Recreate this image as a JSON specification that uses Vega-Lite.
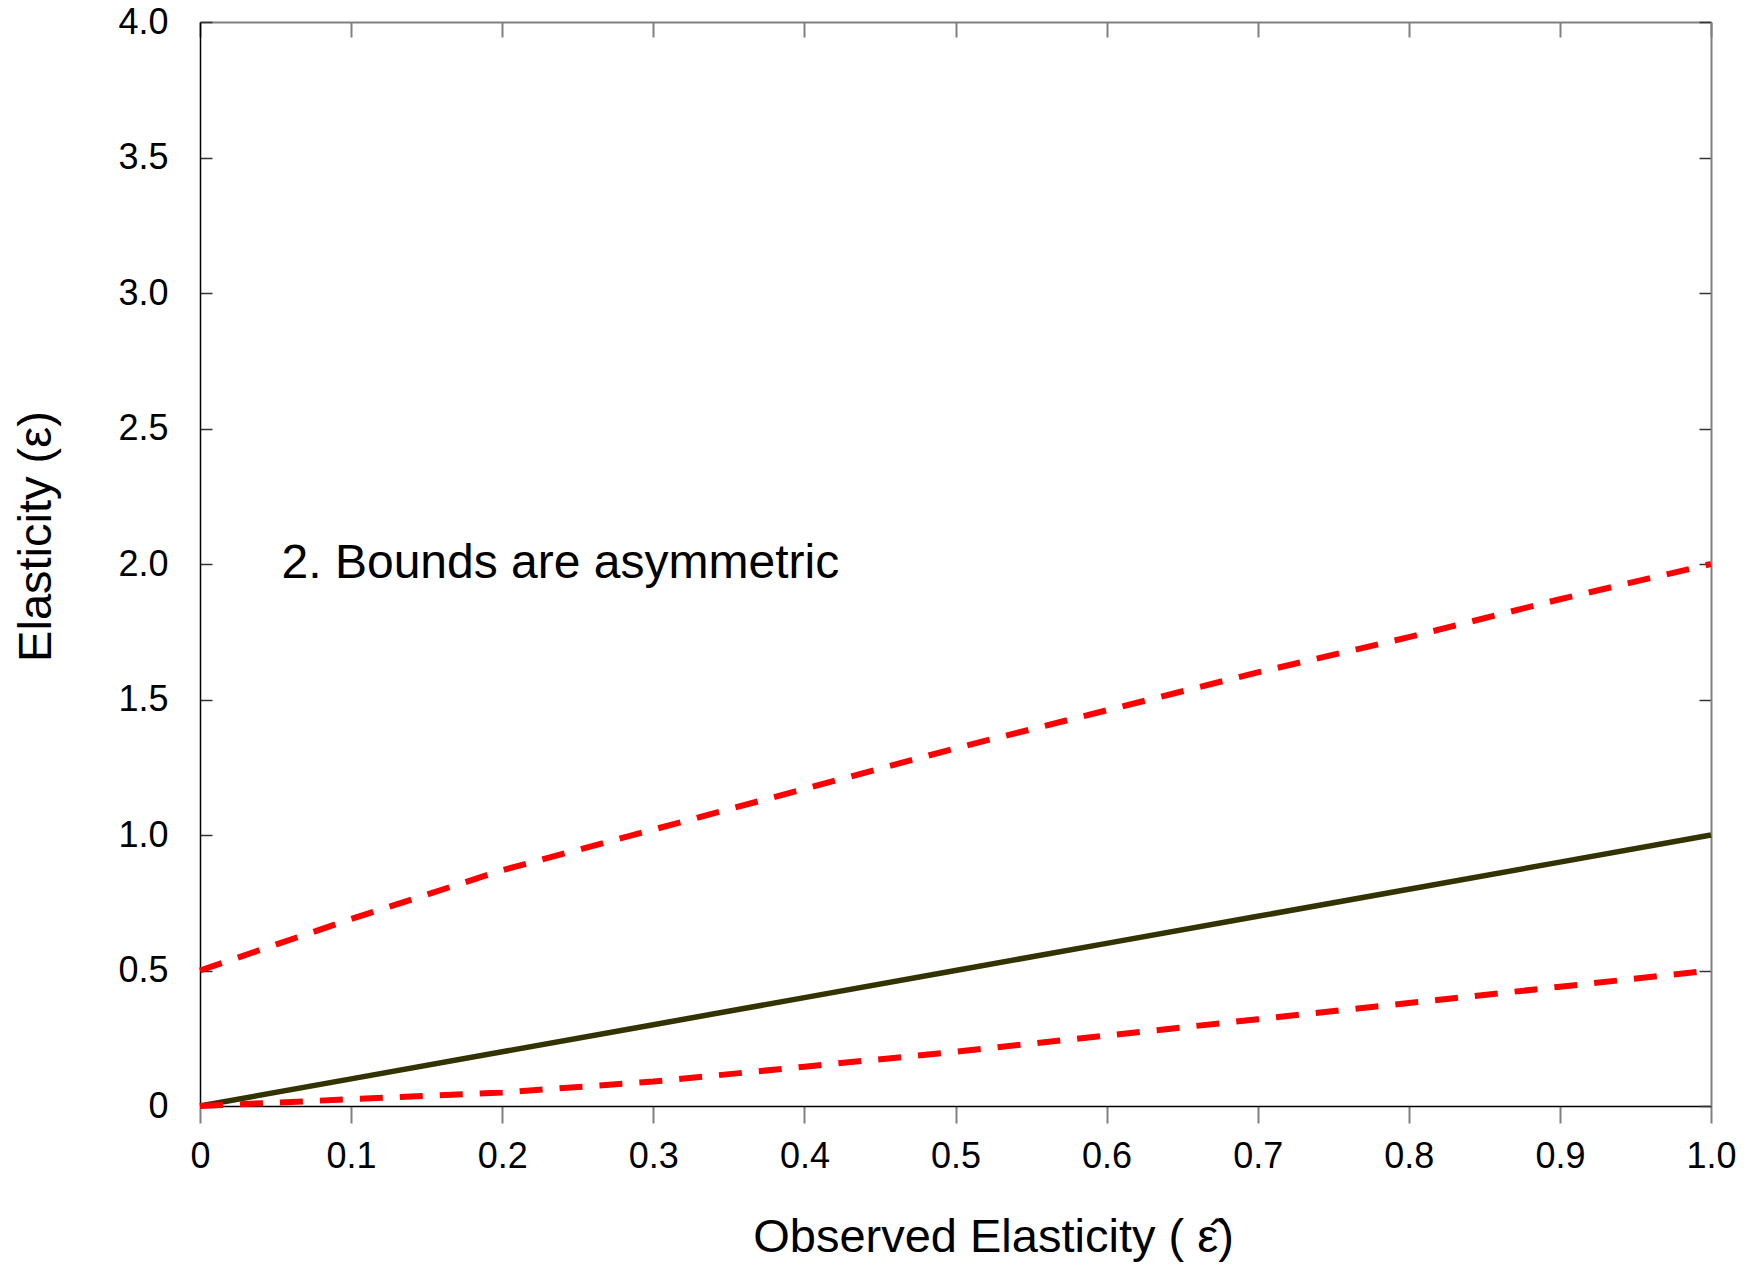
{
  "$schema": "https://vega.github.io/schema/vega-lite/v6.json",
  "width": 1511,
  "height": 1084,
  "autosize": {"type": "none"},
  "padding": {"left": 200, "top": 22, "right": 41, "bottom": 158},
  "background": "white",
  "config": {
    "view": {"stroke": null},
    "font": "Liberation Sans",
    "axis": {"grid": false, "labelFont": "Liberation Sans", "titleFont": "Liberation Sans", "labelColor": "#000000", "titleColor": "#000000", "titleFontWeight": "normal"}
  },
  "data": {"values": [
    {"obs": 0.0, "elasticity": 0.0, "series": "estimate"},
    {"obs": 0.1, "elasticity": 0.1, "series": "estimate"},
    {"obs": 0.2, "elasticity": 0.2, "series": "estimate"},
    {"obs": 0.3, "elasticity": 0.3, "series": "estimate"},
    {"obs": 0.4, "elasticity": 0.4, "series": "estimate"},
    {"obs": 0.5, "elasticity": 0.5, "series": "estimate"},
    {"obs": 0.6, "elasticity": 0.6, "series": "estimate"},
    {"obs": 0.7, "elasticity": 0.7, "series": "estimate"},
    {"obs": 0.8, "elasticity": 0.8, "series": "estimate"},
    {"obs": 0.9, "elasticity": 0.9, "series": "estimate"},
    {"obs": 1.0, "elasticity": 1.0, "series": "estimate"},
    {"obs": 0.0, "elasticity": 0.5, "series": "upper"},
    {"obs": 0.1, "elasticity": 0.69, "series": "upper"},
    {"obs": 0.2, "elasticity": 0.87, "series": "upper"},
    {"obs": 0.3, "elasticity": 1.02, "series": "upper"},
    {"obs": 0.4, "elasticity": 1.17, "series": "upper"},
    {"obs": 0.5, "elasticity": 1.32, "series": "upper"},
    {"obs": 0.6, "elasticity": 1.46, "series": "upper"},
    {"obs": 0.7, "elasticity": 1.6, "series": "upper"},
    {"obs": 0.8, "elasticity": 1.73, "series": "upper"},
    {"obs": 0.9, "elasticity": 1.87, "series": "upper"},
    {"obs": 1.0, "elasticity": 2.0, "series": "upper"},
    {"obs": 0.0, "elasticity": 0.0, "series": "lower"},
    {"obs": 0.1, "elasticity": 0.025, "series": "lower"},
    {"obs": 0.2, "elasticity": 0.05, "series": "lower"},
    {"obs": 0.3, "elasticity": 0.09, "series": "lower"},
    {"obs": 0.4, "elasticity": 0.145, "series": "lower"},
    {"obs": 0.5, "elasticity": 0.2, "series": "lower"},
    {"obs": 0.6, "elasticity": 0.26, "series": "lower"},
    {"obs": 0.7, "elasticity": 0.32, "series": "lower"},
    {"obs": 0.8, "elasticity": 0.38, "series": "lower"},
    {"obs": 0.9, "elasticity": 0.44, "series": "lower"},
    {"obs": 1.0, "elasticity": 0.5, "series": "lower"}
  ]},
  "resolve": {"axis": {"x": "independent", "y": "independent"}},
  "layer": [
    {
      "transform": [{"filter": "datum.series === 'estimate'"}],
      "mark": {"type": "line", "color": "#333300", "strokeWidth": 5.5},
      "encoding": {
        "x": {"field": "obs", "type": "quantitative",
          "scale": {"domain": [0, 1], "nice": false, "zero": false},
          "axis": {"orient": "bottom", "title": "Observed Elasticity ( ε̂)",
            "values": [0, 0.1, 0.2, 0.3, 0.4, 0.5, 0.6, 0.7, 0.8, 0.9, 1.0],
            "labelExpr": "datum.value == 0 ? '0' : format(datum.value, '.1f')",
            "labelFontSize": 36, "labelPadding": 16, "labelFlush": false, "labelOverlap": false,
            "tickSize": 17, "tickColor": "#808080", "tickWidth": 2,
            "domainColor": "#000000", "domainWidth": 1.5,
            "titleFontSize": 47, "titleX": 793, "titleY": 131, "titleBaseline": "middle", "titleAnchor": "middle"}},
        "y": {"field": "elasticity", "type": "quantitative",
          "scale": {"domain": [0, 4], "nice": false, "zero": false},
          "axis": {"orient": "left", "title": "Elasticity (ε)",
            "values": [0, 0.5, 1.0, 1.5, 2.0, 2.5, 3.0, 3.5, 4.0],
            "labelExpr": "datum.value == 0 ? '0' : format(datum.value, '.1f')",
            "labelFontSize": 36, "labelPadding": 44, "labelFlush": false, "labelOverlap": false,
            "tickSize": -12, "tickColor": "#333333", "tickWidth": 1.5,
            "domainColor": "#000000", "domainWidth": 1.5,
            "titleFontSize": 47, "titleX": -164, "titleY": 514, "titleBaseline": "middle", "titleAnchor": "middle"}}
      }
    },
    {
      "transform": [{"filter": "datum.series !== 'estimate'"}],
      "mark": {"type": "line", "color": "#ff0000", "strokeWidth": 6, "strokeDash": [23, 17]},
      "encoding": {
        "x": {"field": "obs", "type": "quantitative",
          "scale": {"domain": [0, 1], "nice": false, "zero": false},
          "axis": {"orient": "top", "title": null, "labels": false,
            "values": [0, 0.1, 0.2, 0.3, 0.4, 0.5, 0.6, 0.7, 0.8, 0.9, 1.0],
            "tickSize": -15, "tickColor": "#808080", "tickWidth": 2,
            "domainColor": "#808080", "domainWidth": 2}},
        "y": {"field": "elasticity", "type": "quantitative",
          "scale": {"domain": [0, 4], "nice": false, "zero": false},
          "axis": {"orient": "right", "title": null, "labels": false,
            "values": [0, 0.5, 1.0, 1.5, 2.0, 2.5, 3.0, 3.5, 4.0],
            "tickSize": -12, "tickColor": "#333333", "tickWidth": 1.5,
            "domainColor": "#808080", "domainWidth": 2}},
        "detail": {"field": "series", "type": "nominal"}
      }
    },
    {
      "mark": {"type": "text", "align": "left", "baseline": "middle", "fontSize": 48, "font": "Liberation Sans", "color": "#000000"},
      "data": {"values": [{"note": "2. Bounds are asymmetric"}]},
      "encoding": {
        "text": {"field": "note", "type": "nominal"},
        "x": {"datum": 0.054, "type": "quantitative", "axis": null},
        "y": {"datum": 2.0, "type": "quantitative", "axis": null}
      }
    }
  ]
}
